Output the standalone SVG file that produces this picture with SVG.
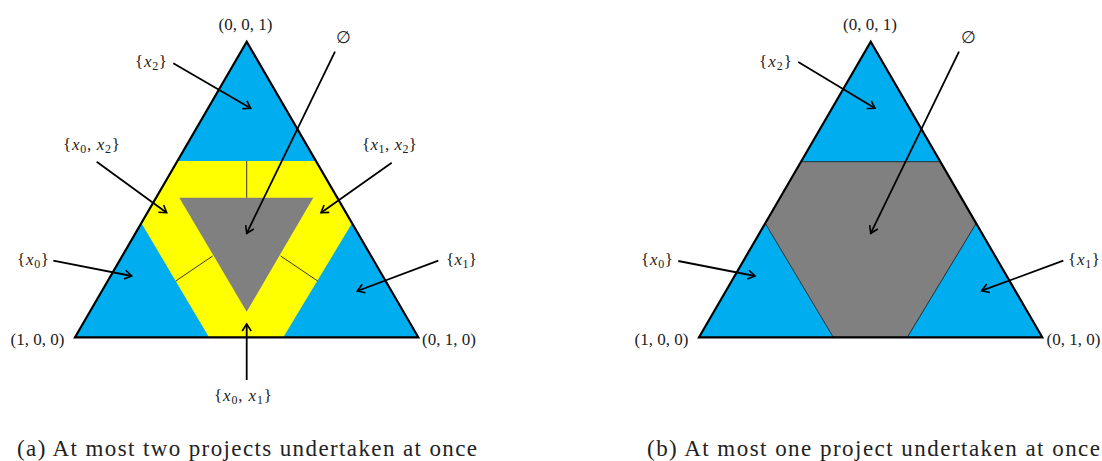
<svg xmlns="http://www.w3.org/2000/svg" width="1102" height="461" viewBox="0 0 1102 461">
<style>
.blue{fill:#00AEEF}
.yellow{fill:#FFFF00}
.gray{fill:#808080}
.outline{fill:none;stroke:#000;stroke-width:2.2;stroke-linejoin:miter}
.div{stroke:#222;stroke-width:0.9;fill:none}
.arrow{stroke:#000;stroke-width:1.8;fill:none;marker-end:url(#ah)}
text{font-family:"Liberation Serif","DejaVu Serif",serif;fill:#222}
.lbl{font-size:17px}
.it{font-style:italic}
.sub{font-size:12px}
.cap{font-size:23px}
</style>
<defs>
<marker id="ah" viewBox="-9 -6 11 12" refX="0" refY="0" markerWidth="11" markerHeight="12" markerUnits="userSpaceOnUse" orient="auto">
<path d="M-7,-4.5 L0,0 L-7,4.5" fill="none" stroke="#000" stroke-width="1.6"/>
</marker>
</defs>

<g id="diagram-a">
<g id="a-region-x2"><polygon class="blue" points="246.7,41.7 75,337.3 418.3,337.3"/></g>
<g id="a-region-pairs"><polygon class="yellow" points="177.4,161 316,161 352,223.3 283.3,337.3 209,337.3 141.5,223.3"/></g>
<g id="a-region-empty"><polygon class="gray" points="179.3,197.7 313.3,197.7 246.7,311.7"/></g>
<g id="a-dividers">
<line class="div" x1="246.7" y1="161" x2="246.7" y2="197.7"/>
<line class="div" x1="175.7" y1="281" x2="212.7" y2="256"/>
<line class="div" x1="280.7" y1="256" x2="317.7" y2="281"/>
</g>
<g id="a-outline"><polygon class="outline" points="246.7,41.7 75,337.3 418.3,337.3"/></g>
</g>

<g id="diagram-b">
<g id="b-region-blue"><polygon class="blue" points="870.7,41.7 699,337.3 1042.3,337.3"/></g>
<g id="b-region-empty"><polygon class="gray" points="801,161.7 940.4,161.7 976.2,223.3 907.3,337.3 833.3,337.3 765.2,223.3" stroke="#222" stroke-width="0.9"/></g>
<g id="b-outline"><polygon class="outline" points="870.7,41.7 699,337.3 1042.3,337.3"/></g>
</g>

<g id="connectors">
<line class="arrow" x1="173.3" y1="63.3" x2="250.7" y2="108.3"/>
<line class="arrow" x1="335" y1="51.7" x2="246.7" y2="233.3"/>
<line class="arrow" x1="96.7" y1="161.7" x2="166.7" y2="212.7"/>
<line class="arrow" x1="391.7" y1="162.7" x2="321" y2="212.7"/>
<line class="arrow" x1="53.3" y1="260.7" x2="131.7" y2="276"/>
<line class="arrow" x1="438.3" y1="260.7" x2="357.3" y2="291"/>
<line class="arrow" x1="246.7" y1="380" x2="246.7" y2="324"/>
<line class="arrow" x1="798.3" y1="62" x2="875" y2="108.3"/>
<line class="arrow" x1="959" y1="51.7" x2="870.7" y2="233.3"/>
<line class="arrow" x1="678.3" y1="261" x2="755" y2="276"/>
<line class="arrow" x1="1063.3" y1="260.7" x2="981.7" y2="290.7"/>
</g>

<g id="labels-a">
<g id="a-v001"><text class="lbl" x="245.5" y="30" text-anchor="middle">(0, 0, 1)</text></g>
<g id="a-v100"><text class="lbl" x="37.5" y="345" text-anchor="middle">(1, 0, 0)</text></g>
<g id="a-v010"><text class="lbl" x="449" y="345" text-anchor="middle">(0, 1, 0)</text></g>
<g id="a-empty"><text class="lbl" x="343" y="43" text-anchor="middle">∅</text></g>
<g id="a-x2"><text class="lbl" x="135" y="67" textLength="32">{<tspan class="it">x</tspan><tspan class="sub" dy="3">2</tspan><tspan dy="-3">}</tspan></text></g>
<g id="a-x0x2"><text class="lbl" x="63" y="150" textLength="57">{<tspan class="it">x</tspan><tspan class="sub" dy="3">0</tspan><tspan dy="-3">, </tspan><tspan class="it">x</tspan><tspan class="sub" dy="3">2</tspan><tspan dy="-3">}</tspan></text></g>
<g id="a-x1x2"><text class="lbl" x="362" y="150" textLength="55">{<tspan class="it">x</tspan><tspan class="sub" dy="3">1</tspan><tspan dy="-3">, </tspan><tspan class="it">x</tspan><tspan class="sub" dy="3">2</tspan><tspan dy="-3">}</tspan></text></g>
<g id="a-x0"><text class="lbl" x="17" y="265" textLength="32">{<tspan class="it">x</tspan><tspan class="sub" dy="3">0</tspan><tspan dy="-3">}</tspan></text></g>
<g id="a-x1"><text class="lbl" x="446" y="265" textLength="31">{<tspan class="it">x</tspan><tspan class="sub" dy="3">1</tspan><tspan dy="-3">}</tspan></text></g>
<g id="a-x0x1"><text class="lbl" x="214" y="401" textLength="58">{<tspan class="it">x</tspan><tspan class="sub" dy="3">0</tspan><tspan dy="-3">, </tspan><tspan class="it">x</tspan><tspan class="sub" dy="3">1</tspan><tspan dy="-3">}</tspan></text></g>
</g>

<g id="labels-b">
<g id="b-v001"><text class="lbl" x="870" y="30" text-anchor="middle">(0, 0, 1)</text></g>
<g id="b-v100"><text class="lbl" x="661.5" y="345" text-anchor="middle">(1, 0, 0)</text></g>
<g id="b-v010"><text class="lbl" x="1073.5" y="345" text-anchor="middle">(0, 1, 0)</text></g>
<g id="b-empty"><text class="lbl" x="968" y="43" text-anchor="middle">∅</text></g>
<g id="b-x2"><text class="lbl" x="759" y="67" textLength="33">{<tspan class="it">x</tspan><tspan class="sub" dy="3">2</tspan><tspan dy="-3">}</tspan></text></g>
<g id="b-x0"><text class="lbl" x="641" y="265" textLength="32">{<tspan class="it">x</tspan><tspan class="sub" dy="3">0</tspan><tspan dy="-3">}</tspan></text></g>
<g id="b-x1"><text class="lbl" x="1068" y="265" textLength="32">{<tspan class="it">x</tspan><tspan class="sub" dy="3">1</tspan><tspan dy="-3">}</tspan></text></g>
</g>

<g id="captions">
<text class="cap" x="17" y="456" textLength="460" lengthAdjust="spacing">(a) At most two projects undertaken at once</text>
<text class="cap" x="647" y="456" textLength="453" lengthAdjust="spacing">(b) At most one project undertaken at once</text>
</g>
</svg>
